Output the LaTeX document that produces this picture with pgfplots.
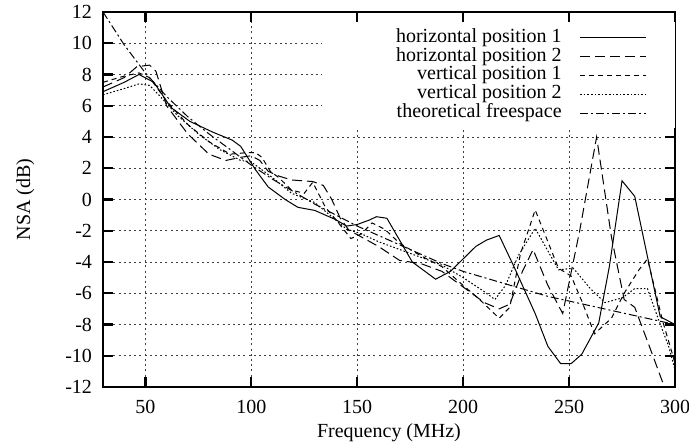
\documentclass[border=0pt]{standalone}
\usepackage{fontspec}
\setmainfont{Liberation Serif}
\usepackage{pgfplots}
\pgfplotsset{compat=1.18}
\usetikzlibrary{calc}

\begin{document}
\begin{tikzpicture}
\begin{axis}[
    scale only axis,
    width=286pt, height=187.5pt,
    xmin=30, xmax=300, ymin=-12, ymax=12,
    xtick={50,100,150,200,250,300},
    xticklabels={50,100,150,200,250,300},
    ytick={-12,-10,-8,-6,-4,-2,0,2,4,6,8,10,12},
    yticklabels={-12,-10,-8,-6,-4,-2,0,2,4,6,8,10,12},
    tick align=inside, major tick length=5pt,
    tick style={line width=1.2pt, black},
    axis line style={line width=0.9pt},
    grid=major,
    grid style={dash pattern=on 1pt off 1.6pt, line width=0.45pt, black!75},
    xticklabel style={yshift=-3pt},
    yticklabel style={xshift=-2pt},
    xlabel={Frequency (MHz)}, ylabel={NSA (dB)},
    every axis x label/.style={at={(axis description cs:0.5,-0.1227)}, anchor=center},
    every axis y label/.style={at={(axis description cs:-0.136,0.5)}, anchor=center, rotate=90},
    legend plot pos=right,
    legend cell align=right,
    legend image code/.code={\draw[#1] (0pt,0pt) -- (33pt,0pt);},
    legend style={at={(rel axis cs:1,1)}, anchor=north east, draw=none, fill=white,
        inner xsep=14pt, inner ysep=3pt, yshift=-5pt, row sep=0pt,
        nodes={inner sep=0pt, text height=7pt, text depth=2.4pt},
        /tikz/every odd column/.append style={column sep=9pt}},
    every axis plot/.append style={line width=0.5pt, black},
]
% horizontal position 1
\addplot[solid] coordinates {
(30,6.9) (40,7.5) (47,8.0) (54,7.5) (62,5.9) (71,5.0) (82,4.3) (91,3.8) (95,3.4)
(102,1.9) (108,0.8) (116,0.0) (122,-0.5) (130,-0.7) (135,-1.0) (140,-1.3) (145,-1.7)
(150,-1.6) (156,-1.3) (159,-1.1) (164,-1.2) (170,-2.6) (176,-4.0) (187,-5.1) (194,-4.6)
(200,-3.8) (206,-3.0) (211,-2.6) (217,-2.3) (224,-4.3) (234,-7.3) (240,-9.4) (246,-10.5)
(251,-10.5) (256,-9.9) (264,-7.9) (269,-4.3) (275,1.2) (281,0.2) (288,-4.3) (293,-7.5) (300,-8.0)
};
\addlegendentry{\hspace*{23pt}horizontal position 1}
% horizontal position 2
\addplot[dash pattern=on 5pt off 2.5pt] coordinates {
(30,7.2) (40,7.8) (46,8.5) (52,8.6) (55,8.2) (60,6.0) (70,4.2) (80,2.9) (88,2.5) (95,2.7)
(100,2.8) (104,2.5) (108,1.8) (113,1.5) (119,1.25) (129,1.15) (134,0.9) (138,0.0) (142,-1.2)
(146,-1.95) (152,-2.4) (160,-3.0) (170,-3.9) (180,-4.1) (190,-4.6) (200,-5.6) (210,-6.6)
(217,-7.0) (222,-6.7) (228,-4.6) (233,-3.2) (240,-5.5) (247,-7.3) (255,-2.0) (263,4.0)
(270,-2.4) (276,-6.4) (281,-6.9) (289,-9.8) (295,-12.0) (300,-13.5)
};
\addlegendentry{horizontal position 2}
% vertical position 1
\addplot[dash pattern=on 2.5pt off 2pt] coordinates {
(30,7.5) (40,7.9) (47,8.1) (52,7.8) (60,6.3) (70,4.8) (80,3.7) (90,2.9) (98,3.0) (102,3.0)
(105,2.7) (109,1.8) (113,1.4) (119,0.6) (125,0.4) (129,1.1) (135,-0.5) (140,-1.3) (147,-2.5)
(152,-2.2) (157,-1.5) (163,-1.9) (170,-2.8) (180,-3.6) (190,-4.3) (200,-5.5) (207,-6.3)
(217,-7.6) (222,-6.9) (227,-3.5) (234,-0.67) (245,-4.4) (251,-4.9) (256,-6.5) (262,-8.6)
(270,-7.6) (276,-6.0) (283,-4.5) (287,-3.8) (291,-6.0) (294,-7.7) (299,-10.0) (300,-10.5)
};
\addlegendentry{vertical position 1}
% vertical position 2
\addplot[dash pattern=on 0.8pt off 1pt] coordinates {
(30,6.7) (40,7.1) (47,7.4) (52,7.3) (57,6.6) (65,5.4) (75,4.2) (85,3.2) (95,2.5) (100,2.4)
(110,1.4) (119,0.4) (130,-0.2) (138,-1.1) (145,-1.9) (152,-2.2) (160,-2.7) (170,-3.2)
(180,-3.7) (190,-4.2) (200,-5.0) (210,-5.9) (215,-6.4) (220,-5.5) (226,-3.6) (234,-1.84)
(245,-4.5) (252,-4.4) (260,-5.7) (267,-6.6) (275,-6.3) (281,-5.7) (287,-5.7) (292,-7.6)
(297,-9.4) (300,-10.9)
};
\addlegendentry{vertical position 2}
% theoretical freespace
\addplot[dash pattern=on 4pt off 1.5pt on 1pt off 1.5pt] coordinates {
(30,12.0) (40,9.9) (50,8.1) (60,6.6) (70,5.3) (80,4.2) (90,3.2) (100,2.2) (110,1.3)
(120,0.5) (130,-0.3) (140,-1.0) (150,-1.7) (160,-2.3) (170,-2.9) (180,-3.5) (190,-4.1)
(200,-4.6) (210,-5.0) (220,-5.4) (230,-5.8) (240,-6.2) (250,-6.5) (260,-6.8) (270,-7.1)
(280,-7.4) (290,-7.7) (300,-8.0)
};
\addlegendentry{theoretical freespace}
\end{axis}
\pgfresetboundingbox
\path[use as bounding box] ($(current axis.south west)+(-51.5pt,-29pt)$) rectangle ($(current axis.north east)+(7pt,6pt)$);
\end{tikzpicture}
\end{document}
